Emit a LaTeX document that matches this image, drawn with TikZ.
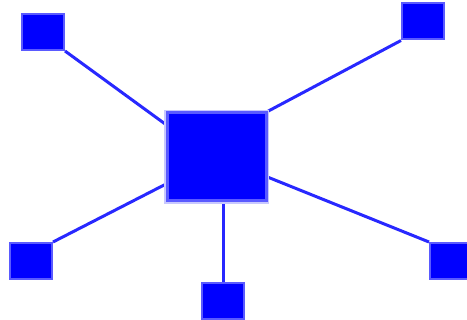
\documentclass[tikz,border=0pt]{standalone}
\usetikzlibrary{calc,backgrounds}
\definecolor{fillblue}{RGB}{0,0,255}
\definecolor{edgeblue}{RGB}{90,90,255}
\definecolor{haloblue}{RGB}{200,200,255}
\definecolor{linkblue}{RGB}{40,40,255}
\begin{document}
\begin{tikzpicture}[x=1pt,y=-1pt,
  leaf/.style={rectangle,fill=fillblue,draw=edgeblue,line width=2pt,inner sep=0pt,minimum width=42pt,minimum height=36pt},
  hub/.style={rectangle,fill=fillblue,draw=edgeblue,line width=3pt,inner sep=0pt,minimum width=99pt,minimum height=88pt,
    preaction={draw=haloblue,line width=6pt}},
  link/.style={draw=linkblue,line width=3pt}]
\clip (0,0) rectangle (467,320);
\node[hub] (c) at (216.5,157) {};
\node[leaf] (tl) at (43,32) {};
\node[leaf] (tr) at (423,21.5) {};
\node[leaf] (bl) at (31,261) {};
\node[leaf] (bc) at (223,301.5) {};
\node[leaf] (r) at (451,261) {};
\begin{scope}[on background layer]
\draw[link] (tl.south east) -- ($(c.north west)!0.14!(c.south west)$);
\draw[link] (tr.south west) -- (c.north east);
\draw[link] (bl.north east) -- ($(c.north west)!0.8!(c.south west)$);
\draw[link] (bc.north) -- (bc.north |- c.south);
\draw[link] ($(c.north east)!0.72!(c.south east)$) -- (r.north west);
\end{scope}
\end{tikzpicture}
\end{document}
